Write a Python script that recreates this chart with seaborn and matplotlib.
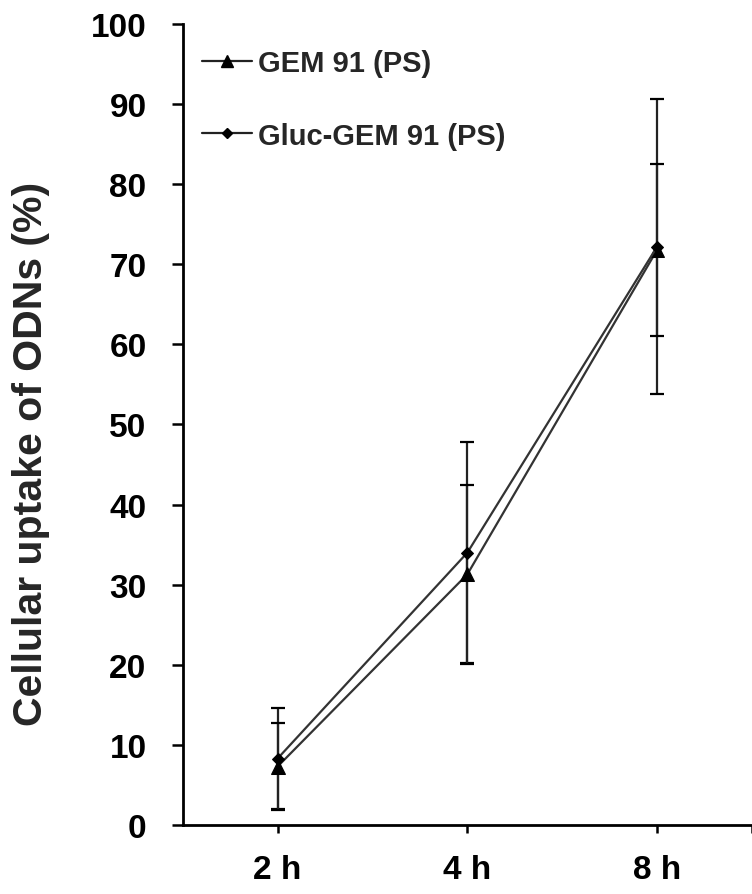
import numpy as np
import pandas as pd
import matplotlib
matplotlib.use("Agg")
import matplotlib.pyplot as plt
import seaborn as sns
from matplotlib.lines import Line2D

# ---- data ----
time_labels = ["2 h", "4 h", "8 h"]
series_names = ["GEM 91 (PS)", "Gluc-GEM 91 (PS)"]
gem91_mean = [7.3, 31.3, 71.8]
gem91_err = [5.4, 11.2, 10.7]
gluc_mean = [8.3, 34.0, 72.2]
gluc_err = [6.3, 13.8, 18.4]
y_ticks = [0, 10, 20, 30, 40, 50, 60, 70, 80, 90, 100]

sns.set_theme(style="white")
plt.rcParams['font.family'] = ['Liberation Sans', 'DejaVu Sans']
plt.rcParams['font.weight'] = 'bold'

df = pd.DataFrame({
    "x": list(range(len(time_labels))) * 2,
    "value": gem91_mean + gluc_mean,
    "err": gem91_err + gluc_err,
    "series": [series_names[0]] * 3 + [series_names[1]] * 3,
})

fig = plt.figure(figsize=(7.52, 8.95), dpi=100)
ax = fig.add_axes([0.243, 0.0771, 0.757, 0.895])

markers = {series_names[0]: "^", series_names[1]: "D"}
for name in [series_names[1], series_names[0]]:
    sub = df[df.series == name]
    ax.errorbar(sub["x"], sub["value"], yerr=sub["err"], fmt="none",
                ecolor="#222222", elinewidth=1.6, capsize=5, capthick=1.6, zorder=2)

sns.lineplot(data=df, x="x", y="value", hue="series", style="series",
             markers=markers, dashes=False, palette=["#333333", "#333333"],
             hue_order=series_names, style_order=series_names,
             linewidth=1.6, markersize=9, markeredgecolor="black",
             errorbar=None, ax=ax, zorder=3, legend=False)
for l in ax.get_lines():
    l.set_markerfacecolor("black")
    l.set_markeredgecolor("black")
    if l.get_marker() == "D":
        l.set_markersize(6.5)
    elif l.get_marker() == "^":
        l.set_markersize(10)

ax.set_xlim(-0.5, 2.5)
ax.set_ylim(0, 100)
ax.set_xticks(range(len(time_labels)))
ax.set_xticklabels(time_labels)
ax.set_xticks([2.5], minor=True)
ax.set_yticks(y_ticks)
ax.set_yticklabels([str(v) for v in y_ticks])
ax.set_xlabel("")
ax.set_ylabel("Cellular uptake of ODNs (%)", fontsize=29.5, fontweight="bold",
              va="center")
ax.yaxis.set_label_coords((31 - 182.7) / 569.3, (826 - 454) / 801.0)

for s in ["top", "right"]:
    ax.spines[s].set_visible(False)
for s in ["left", "bottom"]:
    ax.spines[s].set_color("black")
    ax.spines[s].set_linewidth(2.0)

ax.tick_params(axis="y", which="major", direction="out", length=8, width=1.8,
               labelsize=24, pad=18, left=True, colors="black")
ax.tick_params(axis="x", which="both", direction="out", length=6, width=1.8,
               labelsize=24, pad=15, bottom=True, colors="black")
for t in ax.get_xticklabels() + ax.get_yticklabels():
    t.set_fontweight("bold")

# legend
handles = [
    Line2D([0], [0], color="#222222", lw=1.6, marker="^", markersize=9,
           markerfacecolor="black", markeredgecolor="black"),
    Line2D([0], [0], color="#222222", lw=1.6, marker="D", markersize=5.5,
           markerfacecolor="black", markeredgecolor="black"),
]
ax.legend(handles, series_names, loc="upper left",
          bbox_to_anchor=(202 / 752, 1 - 50 / 895),
          bbox_transform=fig.transFigure, frameon=False,
          prop={"size": 21, "weight": "bold"},
          handlelength=1.71, handletextpad=0.2, labelspacing=1.53,
          borderpad=0, borderaxespad=0)

fig.savefig("out.png", dpi=100)
